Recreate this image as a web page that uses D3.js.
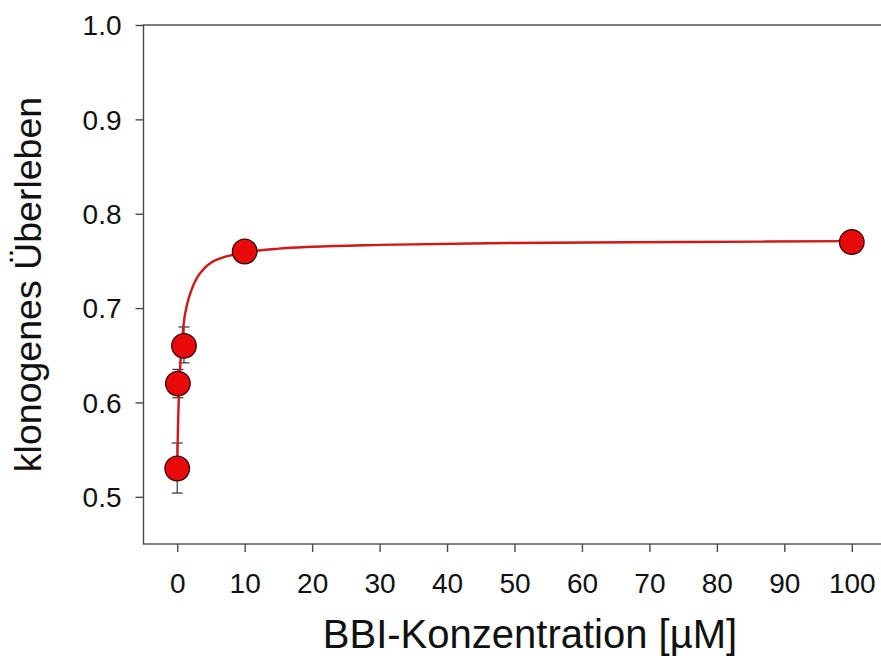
<!DOCTYPE html>
<html>
<head>
<meta charset="utf-8">
<script src="https://cdn.jsdelivr.net/npm/d3@7"></script>
<style>
  html, body { margin: 0; padding: 0; background: #fff; }
  svg { display: block; font-family: "Liberation Sans", Arial, sans-serif; }
</style>
</head>
<body>
<svg id="chart" width="881" height="668"></svg>
<script>
// Measured survival per BBI concentration (µM)
const concentrations = [0, 0.1, 1, 10, 100];
const survival = [0.53, 0.62, 0.66, 0.76, 0.77];
const errLow = [0.504, 0.605, 0.642, 0.756, 0.766];
const errHigh = [0.557, 0.635, 0.680, 0.764, 0.774];

// Fitted saturation curve (sampled)
const fitX = [0, 0.1, 0.25, 0.5, 1, 1.5, 2, 3, 4, 5, 6.5, 8, 10, 15, 20, 30, 50, 75, 100];
const fitY = [0.530, 0.570, 0.608, 0.645, 0.686, 0.705, 0.717, 0.733, 0.742, 0.748, 0.753, 0.756, 0.759, 0.763, 0.765, 0.767, 0.769, 0.770, 0.771];

const xTicks = [0, 10, 20, 30, 40, 50, 60, 70, 80, 90, 100];
const yTicks = [0.5, 0.6, 0.7, 0.8, 0.9, 1.0];

const svg = d3.select("#chart");
const plotLeft = 143.5, plotRight = 885.5, plotTop = 25, plotBottom = 544;

const x = d3.scaleLinear().domain([-5, 105]).range([plotLeft, plotRight]);
const y = d3.scaleLinear().domain([0.45, 1.0]).range([plotBottom, plotTop]);

const axisColor = "#4a4a4a";

// Frame
svg.append("rect")
  .attr("x", plotLeft).attr("y", plotTop)
  .attr("width", plotRight - plotLeft).attr("height", plotBottom - plotTop)
  .attr("fill", "none").attr("stroke", axisColor).attr("stroke-width", 1.4);

// Axes
const xAxis = svg.append("g")
  .attr("transform", `translate(0,${plotBottom})`)
  .call(d3.axisBottom(x).tickValues(xTicks).tickFormat(d3.format("d")).tickSize(8).tickPadding(21));
const yAxis = svg.append("g")
  .attr("transform", `translate(${plotLeft},0)`)
  .call(d3.axisLeft(y).tickValues(yTicks).tickFormat(d3.format(".1f")).tickSize(8).tickPadding(14));

[xAxis, yAxis].forEach(g => {
  g.select(".domain").remove();
  g.selectAll(".tick line").attr("stroke", axisColor).attr("stroke-width", 1.4);
  g.selectAll(".tick text").attr("fill", "#111").style("font-size", "28px")
    .style("font-family", "'Liberation Sans', Arial, sans-serif");
});
xAxis.selectAll(".tick text").attr("dy", "0.71em");
yAxis.selectAll(".tick text").attr("dy", "0.35em");

// Axis titles
svg.append("text")
  .attr("x", 530).attr("y", 648)
  .attr("text-anchor", "middle")
  .attr("fill", "#111")
  .style("font-size", "40px")
  .text("BBI-Konzentration [µM]");

svg.append("text")
  .attr("transform", `translate(41,${(plotTop + plotBottom) / 2}) rotate(-90)`)
  .attr("text-anchor", "middle")
  .attr("fill", "#111")
  .style("font-size", "37.5px")
  .text("klonogenes Überleben");

const data = concentrations.map((c, i) => ({ c, v: survival[i], lo: errLow[i], hi: errHigh[i] }));

// Error bars
const eb = svg.append("g").attr("stroke", "#333").attr("stroke-width", 1.2);
data.forEach(d => {
  eb.append("line").attr("x1", x(d.c)).attr("x2", x(d.c)).attr("y1", y(d.lo)).attr("y2", y(d.hi));
  [d.lo, d.hi].forEach(e => {
    eb.append("line").attr("x1", x(d.c) - 5.5).attr("x2", x(d.c) + 5.5).attr("y1", y(e)).attr("y2", y(e));
  });
});

// Fit curve
const fit = fitX.map((v, i) => [v, fitY[i]]);
svg.append("path")
  .datum(fit)
  .attr("fill", "none")
  .attr("stroke", "#d01818")
  .attr("stroke-width", 2.4)
  .attr("d", d3.line().x(d => x(d[0])).y(d => y(d[1])).curve(d3.curveMonotoneX));

// Points
svg.append("g").selectAll("circle")
  .data(data)
  .join("circle")
  .attr("cx", d => x(d.c))
  .attr("cy", d => y(d.v))
  .attr("r", 12.3)
  .attr("fill", "#e8090b")
  .attr("stroke", "#3a0505")
  .attr("stroke-width", 1.3);
</script>
</body>
</html>
